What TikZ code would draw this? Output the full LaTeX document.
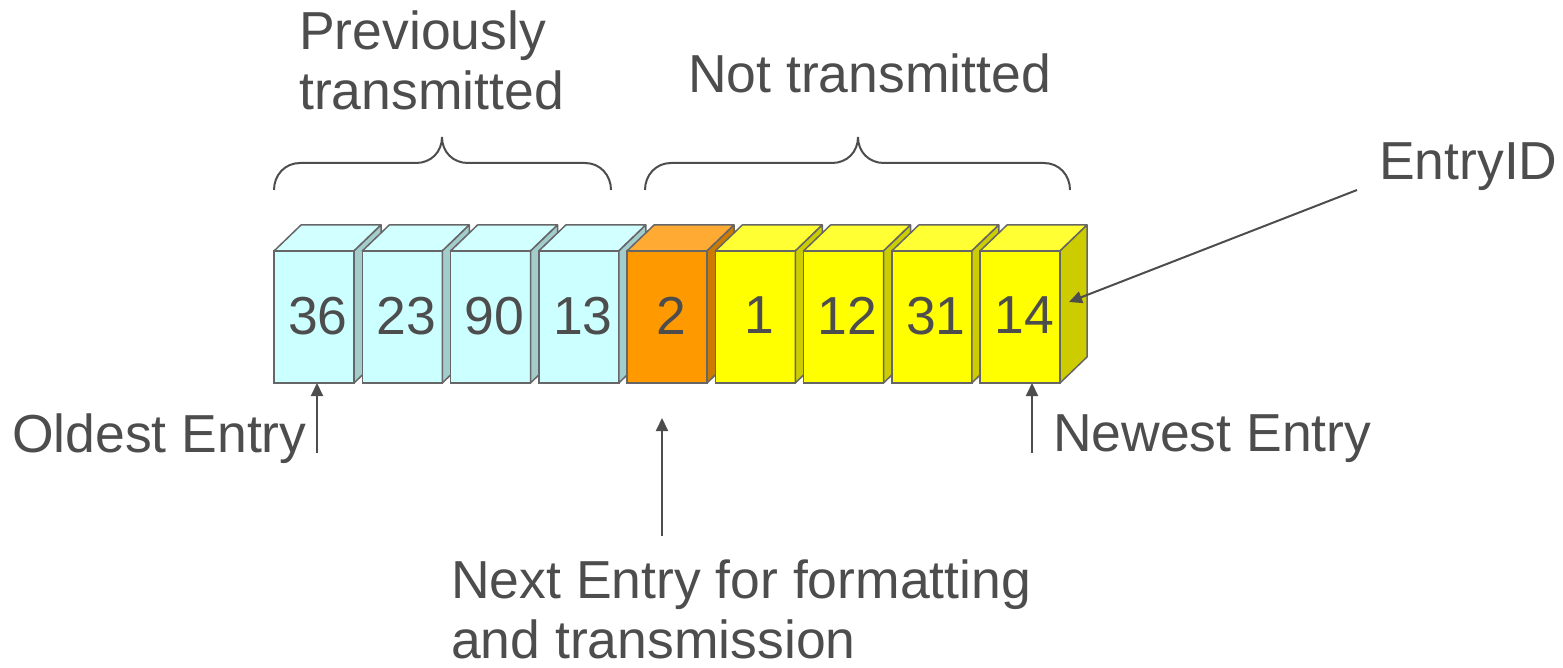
\documentclass[tikz,border=0pt]{standalone}
\usepackage{fontspec}
\setmainfont{Liberation Sans}
\usetikzlibrary{arrows.meta}

\definecolor{ink}{HTML}{4D4D4D}
\definecolor{edge}{HTML}{666666}
\definecolor{frontold}{HTML}{CCFFFF}
\definecolor{topold}{HTML}{D2FFFF}
\definecolor{sideold}{HTML}{A3CCCC}
\definecolor{frontnext}{HTML}{FF9900}
\definecolor{topnext}{HTML}{FFAB33}
\definecolor{sidenext}{HTML}{CC7A00}
\definecolor{frontnew}{HTML}{FFFF00}
\definecolor{topnew}{HTML}{FFFF33}
\definecolor{sidenew}{HTML}{CCCC00}

\tikzset{
  entry/.style={draw=edge, line width=1.5pt, minimum width=80pt, minimum height=132pt,
    inner sep=0pt, outer sep=0pt, text=ink},
  face/.style={draw=edge, line width=1.5pt, line join=round},
  pointer/.style={draw=ink, line width=2pt, -{Triangle[length=13pt,width=12pt]}},
  grouping/.style={draw=ink, line width=2pt},
  caption/.style={text=ink, anchor=base west, inner sep=0pt, align=left},
}

\begin{document}
\begin{tikzpicture}[x=1pt, y=-1pt, font=\fontsize{53.5}{60}\selectfont]
  \useasboundingbox (0,0) rectangle (1563,668);

  % the queue, oldest entry on the left
  \foreach \lab/\kind [count=\i] in {36/old,23/old,90/old,13/old,2/next,1/new,12/new,31/new,14/new}{
    \node[entry, fill=front\kind] (e\i) at ({314+88.25*(\i-1)},317) {\hspace*{8pt}\raisebox{3pt}{\lab}};
    \draw[face, fill=top\kind] (e\i.north west) -- ++(27,-26) -- ++(80,0) -- (e\i.north east) -- cycle;
    \draw[face, fill=side\kind] (e\i.north east) -- ++(27,-26) -- ++(0,132) -- (e\i.south east) -- cycle;
  }

  % braces over the two groups
  \draw[grouping] (274,190) .. controls (274,175) and (285,163) .. (300,163) -- (416,163)
    .. controls (431,163) and (442,152) .. (442,137) .. controls (442,152) and (453,163) .. (468,163)
    -- (585,163) .. controls (600,163) and (611,175) .. (611,190);
  \draw[grouping] (645,190) .. controls (645,175) and (656,163) .. (671,163) -- (832,163)
    .. controls (847,163) and (858,152) .. (858,137) .. controls (858,152) and (869,163) .. (884,163)
    -- (1044,163) .. controls (1059,163) and (1070,175) .. (1070,190);

  % base anchor sits on the last line
  \node[caption] (prev) at (299,110) {Previously\\transmitted};
  \node[caption] (nottx) at (688,93) {Not transmitted};
  \node[caption] (entryid) at (1379,180) {EntryID};
  \node[caption] (oldest) at (12,452) {Oldest Entry};
  \node[caption] (newest) at (1053,451) {Newest Entry};
  \node[caption] (nextlbl) at (451,658) {Next Entry for formatting\\and transmission};

  % pointers
  \coordinate (oldfoot) at (317,453);
  \coordinate (newfoot) at (1032,453);
  \coordinate (nextfoot) at (662,536);
  \coordinate (nexttip) at (662,418);
  \coordinate (idfoot) at (1357,190);
  \coordinate (idtip) at (1069,302);
  \draw[pointer] (oldfoot) -- (oldfoot |- e1.south);
  \draw[pointer] (newfoot) -- (newfoot |- e9.south);
  \draw[pointer] (nextfoot) -- (nexttip);
  \draw[pointer] (idfoot) -- (idtip);
\end{tikzpicture}
\end{document}
